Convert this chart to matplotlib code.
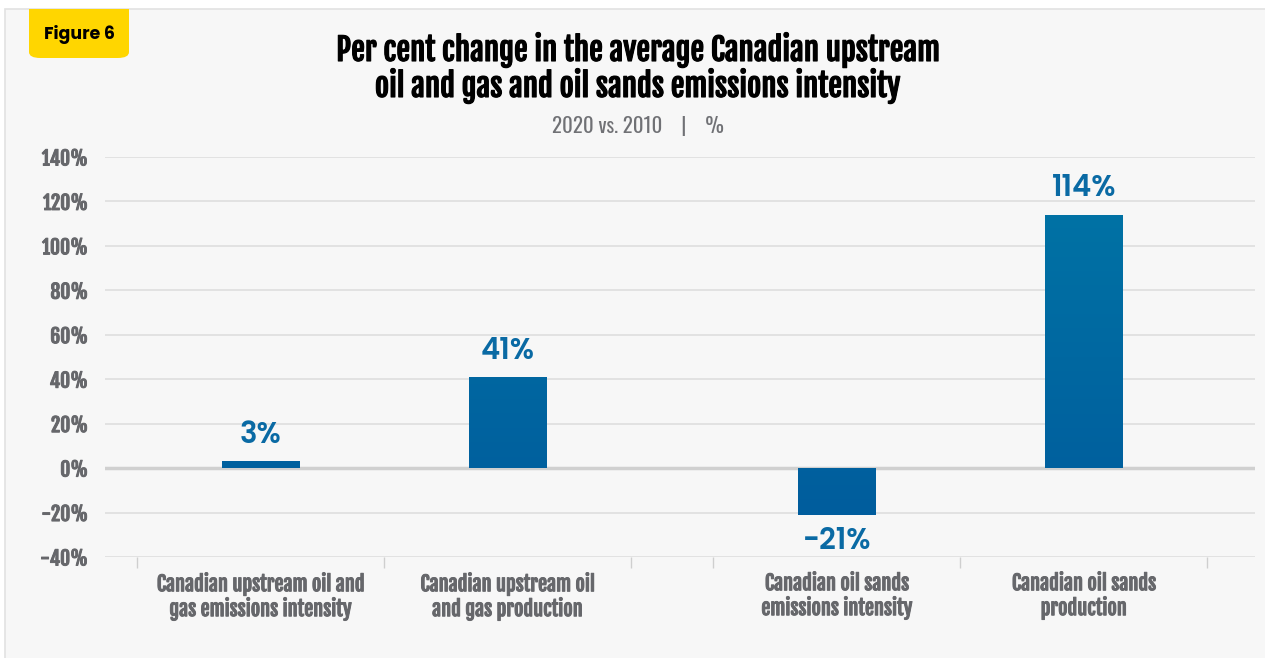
import numpy as np
import matplotlib
matplotlib.use("Agg")
import matplotlib.pyplot as plt
import matplotlib.patheffects as pe
from matplotlib.patches import FancyBboxPatch, Rectangle

categories = [
    "Canadian upstream oil and\ngas emissions intensity",
    "Canadian upstream oil\nand gas production",
    "Canadian oil sands\nemissions intensity",
    "Canadian oil sands\nproduction",
]
values = [3, 41, -21, 114]
groups = [0, 0, 1, 1]
yticks = [-40, -20, 0, 20, 40, 60, 80, 100, 120, 140]

title = "Per cent change in the average Canadian upstream\noil and gas and oil sands emissions intensity"
subtitle = "2020 vs. 2010    |    %"

GREY = "#66676b"
BLUE_TOP = np.array([0x00, 0x76, 0xa6]) / 255
BLUE_BOT = np.array([0x00, 0x5a, 0x9c]) / 255
LABEL_BLUE = "#0a6aa4"

W, H = 1265, 658
fig = plt.figure(figsize=(W / 100, H / 100), dpi=100)
fig.patch.set_facecolor("white")

# fake a heavier weight for the condensed font
heavy_grey = [pe.withStroke(linewidth=0.7, foreground=GREY)]
heavy_black = [pe.withStroke(linewidth=0.8, foreground="black")]

# panel background with thin border on top/left
panel = Rectangle((5 / W, -0.01), 1, 1 - 9 / H + 0.01, transform=fig.transFigure,
                  facecolor="#f7f7f7", edgecolor="#e2e2e2", lw=1.2, zorder=-2)
fig.patches.append(panel)

# yellow badge: square top, rounded bottom
fig.patches.append(FancyBboxPatch((29 / W, 1 - 58 / H), 100 / W, 40 / H,
                                  boxstyle="round,pad=0,rounding_size=0.009",
                                  transform=fig.transFigure, facecolor="#ffd600",
                                  edgecolor="none", zorder=-1))
fig.patches.append(Rectangle((29 / W, 1 - 35 / H), 100 / W, 26 / H, transform=fig.transFigure,
                             facecolor="#ffd600", edgecolor="none", zorder=-1))
fig.text(79 / W, 1 - 34 / H, "Figure 6", ha="center", va="center",
         family="Poppins", weight="bold", fontsize=12.5, color="black")

fig.text(638 / W, 1 - 68 / H, title, ha="center", va="center", family="Fjalla One",
         fontsize=22.2, color="black", linespacing=1.0, path_effects=heavy_black)
fig.text(638 / W, 1 - 126 / H, subtitle, ha="center", va="center", family="Oswald",
         weight="light", fontsize=15, color="#707175")

ax = fig.add_axes([105 / W, 1 - 557 / H, 1150 / W, 400 / H])
ax.set_facecolor("none")

# category positions: width 1 each, gap of 1/3 between the two groups
gap = 1 / 3
x = np.array([i + g * gap for i, g in enumerate(groups)]) + 0.5
bounds = sorted(set(list(x - 0.5) + list(x + 0.5)))
width = 0.315
xlim = (-0.1296, 4.526)
ylim = (yticks[0], yticks[-1])

for y in yticks:
    if y == 0:
        continue
    ax.axhline(y, color="#dedede", lw=1.2, zorder=1)
ax.axhline(0, color="#d0d0d0", lw=2.5, zorder=1)

bars = ax.bar(x, values, width=width, color="none", zorder=3)
grad = np.linspace(0, 1, 256)[:, None, None]
img = BLUE_BOT * (1 - grad) + BLUE_TOP * grad
for b in bars:
    im = ax.imshow(img, extent=[*xlim, *ylim], origin="lower", aspect="auto", zorder=2)
    im.set_clip_path(b)

ax.set_xlim(*xlim)
ax.set_ylim(*ylim)

for xi, v in zip(x, values):
    up = v >= 0
    ax.annotate(f"{v}%", (xi, v), xytext=(0, 7.5 if up else -9), textcoords="offset points",
                ha="center", va="bottom" if up else "top", family="Poppins",
                weight="semibold", fontsize=21, color=LABEL_BLUE)

for s in ax.spines.values():
    s.set_visible(False)

ax.set_yticks(yticks)
ax.set_yticklabels([f"{t}%" for t in yticks], family="Fjalla One", fontsize=14,
                   color=GREY)
ax.tick_params(axis="y", length=0, pad=12)

ax.set_xticks(x)
ax.set_xticklabels(categories, family="Fjalla One", fontsize=14.6,
                   color=GREY, linespacing=1.1)
ax.set_xticks(bounds, minor=True)
ax.tick_params(axis="x", which="major", length=0, pad=11)
ax.tick_params(axis="x", which="minor", length=8, width=1, color="#cfcfcf")

for lab in ax.get_xticklabels() + ax.get_yticklabels():
    lab.set_path_effects(heavy_grey)

fig.savefig("out.png", dpi=100, facecolor=fig.get_facecolor())
